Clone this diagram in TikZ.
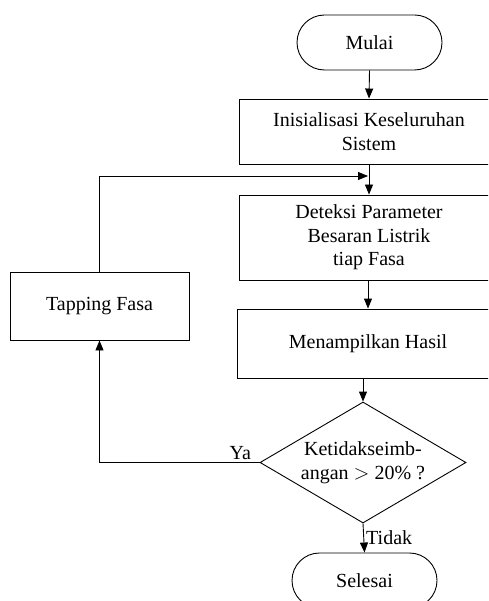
\documentclass[tikz,border=0pt]{standalone}
\usepackage{fontspec}
\setmainfont{Liberation Serif}
\usetikzlibrary{shapes.geometric,shapes.misc,arrows.meta}
\begin{document}
\begin{tikzpicture}[x=1pt,y=-1pt,
  every node/.style={font=\fontsize{20}{23.5}\selectfont},
  every label/.style={align=center,inner sep=0pt},
  base/.style={draw,line width=0.9pt,inner sep=0pt,align=center},
  box/.style={base,rectangle},
  term/.style={base,rounded rectangle,minimum width=145pt,minimum height=55pt},
  dec/.style={base,diamond,minimum width=206pt,minimum height=121pt},
  conn/.style={line width=0.9pt,-{Triangle[length=10pt,width=8pt]}},
  lbl/.style={inner sep=2pt}]
\useasboundingbox (0,0) rectangle (488,601);
\clip (0,0) rectangle (488,601);
\node[term] (mul) at (369.5,42.5) {Mulai};
\node[box,minimum width=259pt,minimum height=65pt] (ini) at (369,131.5) {Inisialisasi Keseluruhan\\Sistem};
\node[box,minimum width=259pt,minimum height=85pt] (det) at (369,237.5) {Deteksi Parameter\\Besaran Listrik\\tiap Fasa};
\node[box,minimum width=262pt,minimum height=69pt] (men) at (368,343.5) {Menampilkan Hasil};
\node[dec,label={center:{Ketidakseimb-\\angan $>$ 20\% ?}}] (dec) at (363,462.5) {};
\node[term] (sel) at (364.5,580.5) {Selesai};
\node[box,minimum width=179pt,minimum height=68pt] (tap) at (99.5,306) {Tapping Fasa};
\coordinate (j) at (368,176);
\draw[conn] (mul.south) -- (ini.north);
\draw[conn] (ini.south) -- (det.north);
\draw[conn] (det.south) -- (men.south |- det.south) -- (men.north);
\draw[conn] (dec.north |- men.south) -- (dec.north);
\draw[conn] (dec.south) -- node[lbl,right] {Tidak} (sel.north);
\draw[conn] (dec.west) -- node[lbl,above,pos=0.12] {Ya} (dec.west -| tap.south) -- (tap.south);
\draw[conn] (tap.north) |- (j);
\end{tikzpicture}
\end{document}
